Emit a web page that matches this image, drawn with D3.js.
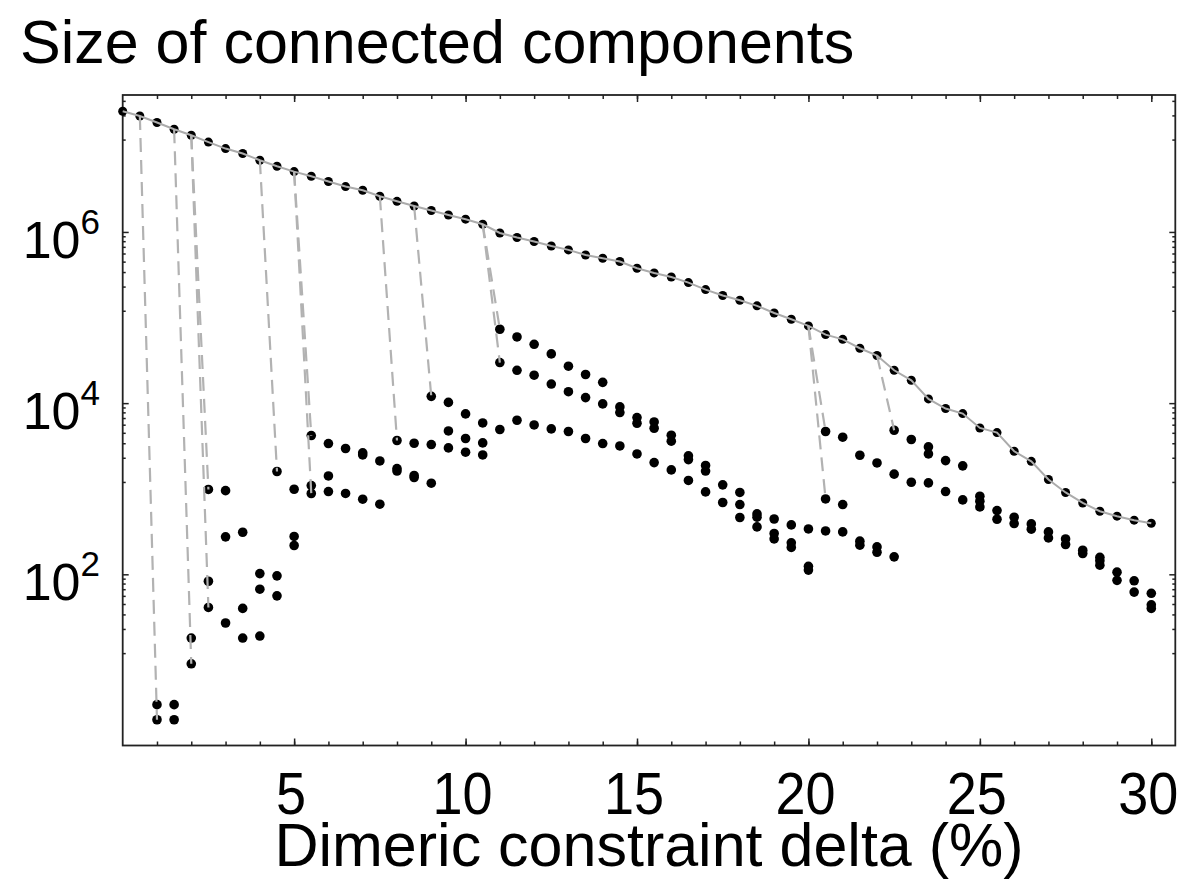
<!DOCTYPE html>
<html lang="en">
<head>
  <meta charset="UTF-8">
  <title>Size of connected components</title>
  <style>
    body { margin: 0; background: #fff; }
    text { font-family: "Liberation Sans", Arial, sans-serif; fill: #000; }
  </style>
</head>
<body>
  <script src="https://cdn.jsdelivr.net/npm/d3@7/dist/d3.min.js"></script>
  <script>
    // dimeric constraint delta (%) for the largest component
    let deltas = [0, 0.5, 1, 1.5, 2, 2.5, 3, 3.5, 4, 4.5, 5, 5.5, 6, 6.5, 7, 7.5, 8, 8.5, 9, 9.5,
                  10, 10.5, 11, 11.5, 12, 12.5, 13, 13.5, 14, 14.5, 15, 15.5, 16, 16.5, 17, 17.5,
                  18, 18.5, 19, 19.5, 20, 20.5, 21, 21.5, 22, 22.5, 23, 23.5, 24, 24.5, 25, 25.5,
                  26, 26.5, 27, 27.5, 28, 28.5, 29, 29.5, 30];
    // size of the largest connected component
    let largest = [25700000, 22600000, 19000000, 15850000, 13490000, 11220000, 9420000, 8240000,
                   6890000, 5860000, 5070000, 4470000, 3890000, 3390000, 3070000, 2610000, 2280000,
                   2010000, 1780000, 1580000, 1410000, 1230000, 973000, 861000, 773000, 686000,
                   617000, 538000, 493000, 451000, 377000, 332000, 298000, 256000, 212000, 181000,
                   159000, 137000, 113000, 95500, 79800, 63200, 55600, 43800, 36000, 24200, 18500,
                   11200, 8650, 7550, 5130, 4530, 2740, 2090, 1280, 904, 682, 546, 478, 429, 395];
    // other components: [delta, size]
    let fragments = [
      [1, 3], [1, 2], [1.5, 3], [1.5, 2], [2, 18], [2, 9],
      [2.5, 980], [2.5, 83], [2.5, 41], [3, 950], [3, 274], [3, 27],
      [3.5, 310], [3.5, 40], [3.5, 18], [4, 102], [4, 67], [4, 19],
      [4.5, 1590], [4.5, 96], [4.5, 56], [5, 986], [5, 277], [5, 217],
      [5.5, 4180], [5.5, 1090], [5.5, 879], [6, 3370], [6, 1410], [6, 927],
      [6.5, 2950], [6.5, 880], [7, 2630], [7, 2480], [7, 754], [7.5, 2110], [7.5, 659],
      [8, 3660], [8, 1720], [8, 1610], [8.5, 3400], [8.5, 1430], [8.5, 1350],
      [9, 12000], [9, 3280], [9, 1160], [9.5, 10200], [9.5, 4730], [9.5, 3000],
      [10, 7480], [10, 3860], [10, 2670], [10.5, 5870], [10.5, 3430], [10.5, 2480],
      [11, 73000], [11, 29800], [11, 4920], [11.5, 59300], [11.5, 24200], [11.5, 6310],
      [12, 48700], [12, 21200], [12, 5560], [12.5, 37600], [12.5, 16700], [12.5, 5000],
      [13, 27000], [13, 13600], [13, 4660], [13.5, 21600], [13.5, 11600], [13.5, 3860],
      [14, 17500], [14, 9790], [14, 3370], [14.5, 9040], [14.5, 7760], [14.5, 3160],
      [15, 6790], [15, 5820], [15, 2550], [15.5, 6030], [15.5, 5090], [15.5, 2020],
      [16, 4220], [16, 3590], [16, 1660], [16.5, 2420], [16.5, 2190], [16.5, 1250],
      [17, 1870], [17, 1610], [17, 918], [17.5, 1110], [17.5, 690],
      [18, 904], [18, 653], [18, 461], [18.5, 508], [18.5, 465], [18.5, 358],
      [19, 443], [19, 300], [19, 259], [19.5, 378], [19.5, 233], [19.5, 206],
      [20, 339], [20, 124], [20, 112], [20.5, 4660], [20.5, 760], [20.5, 321],
      [21, 4000], [21, 653], [21, 313], [21.5, 2460], [21.5, 244], [21.5, 219],
      [22, 2000], [22, 209], [22, 181], [22.5, 4820], [22.5, 1480], [22.5, 160],
      [23, 3760], [23, 1190], [23.5, 3080], [23.5, 2550], [23.5, 1170],
      [24, 2130], [24, 927], [24.5, 1850], [24.5, 740], [25, 817], [25, 714], [25, 612],
      [25.5, 556], [25.5, 440], [26, 464], [26, 392], [26.5, 388], [26.5, 337],
      [27, 313], [27, 266], [27.5, 259], [27.5, 223], [28, 191], [28, 175],
      [28.5, 158], [28.5, 144], [28.5, 128], [29, 106], [29, 85], [29.5, 84], [29.5, 62],
      [30, 60], [30, 44], [30, 40]
    ];
    // splits off the largest component: [parent delta, child delta, child size]
    let splits = [
      [0.5, 1, 2], [1.5, 2, 9], [2, 2.5, 980], [2, 2.5, 41], [4, 4.5, 1590],
      [5, 5.5, 4180], [5, 5.5, 879], [7.5, 8, 3660], [8.5, 9, 12000],
      [10.5, 11, 73000], [10.5, 11, 29800], [20, 20.5, 4660], [20, 20.5, 760], [22, 22.5, 4820]
    ];
    let xMajor = [5, 10, 15, 20, 25, 30];
    let xMinor = d3.range(1, 31);
    let yMajorExp = [2, 4, 6];

    let width = 1200;
    let height = 892;
    let svg = d3.select('body').append('svg')
                .attr('width', width)
                .attr('height', height);

    let x = d3.scaleLinear().domain([0, 30.7]).range([122.7, 1175.3]);
    let y = d3.scaleLog().domain([1, Math.pow(10, 7.6)]).range([745.5, 95]);
    let plotTop = y.range()[1], plotBottom = y.range()[0];
    let plotLeft = x.range()[0], plotRight = x.range()[1];

    // minor y ticks: 8 linear steps between the labelled decades
    let yMinor = [];
    [[1, 1e2], [1e2, 1e4], [1e4, 1e6], [1e6, 1e8]].forEach(function(p) {
      for (let m = 1; m <= 8; m++) {
        let v = p[0] + m * (p[1] - p[0]) / 9;
        if (v < y.domain()[1]) yMinor.push(v);
      }
    });

    function tickAxis(axis, transform) {
      let g = svg.append('g').attr('transform', transform).call(axis);
      g.select('.domain').remove();
      g.selectAll('line').attr('stroke', '#222').attr('stroke-width', 1.5);
      g.selectAll('text').remove();
    }
    // inward ticks on all four sides
    tickAxis(d3.axisBottom(x).tickValues(xMinor).tickSize(-4), 'translate(0,' + plotBottom + ')');
    tickAxis(d3.axisBottom(x).tickValues(xMajor).tickSize(-7), 'translate(0,' + plotBottom + ')');
    tickAxis(d3.axisTop(x).tickValues(xMinor).tickSize(-4), 'translate(0,' + plotTop + ')');
    tickAxis(d3.axisTop(x).tickValues(xMajor).tickSize(-7), 'translate(0,' + plotTop + ')');
    let yMajor = yMajorExp.map(function(e) { return Math.pow(10, e); });
    tickAxis(d3.axisLeft(y).tickValues(yMinor).tickSize(-3), 'translate(' + plotLeft + ',0)');
    tickAxis(d3.axisLeft(y).tickValues(yMajor).tickSize(-6), 'translate(' + plotLeft + ',0)');
    tickAxis(d3.axisRight(y).tickValues(yMinor).tickSize(-3), 'translate(' + plotRight + ',0)');
    tickAxis(d3.axisRight(y).tickValues(yMajor).tickSize(-6), 'translate(' + plotRight + ',0)');

    // frame
    svg.append('rect')
       .attr('x', plotLeft).attr('y', plotTop)
       .attr('width', plotRight - plotLeft).attr('height', plotBottom - plotTop)
       .attr('fill', 'none').attr('stroke', '#222').attr('stroke-width', 1.8);

    // x labels (slightly condensed, like the original)
    svg.append('g').selectAll('text')
       .data(xMajor).enter().append('text')
       .attr('transform', function(d) { return 'translate(' + (x(d) - 3) + ',814) scale(0.9,1)'; })
       .attr('text-anchor', 'middle')
       .attr('font-size', 60)
       .text(function(d) { return d; });

    // y labels 10^n
    let yl = svg.append('g').selectAll('text')
       .data(yMajorExp).enter().append('text')
       .attr('x', 100)
       .attr('y', function(d) { return y(Math.pow(10, d)) + 26; })
       .attr('text-anchor', 'end')
       .attr('font-size', 52);
    yl.append('tspan').text('10');
    yl.append('tspan').attr('font-size', 35).attr('dy', -24)
      .text(function(d) { return d; });

    // titles
    svg.append('text').attr('x', 20).attr('y', 63)
       .attr('font-size', 61).text('Size of connected components');
    svg.append('text').attr('x', (plotLeft + plotRight) / 2).attr('y', 866)
       .attr('text-anchor', 'middle')
       .attr('font-size', 61).text('Dimeric constraint delta (%)');

    // points
    let plot = svg.append('g');
    let r = 4.8;
    plot.selectAll('circle.frag')
        .data(fragments).enter().append('circle')
        .attr('class', 'frag')
        .attr('cx', function(d) { return x(d[0]); })
        .attr('cy', function(d) { return y(d[1]); })
        .attr('r', r).attr('fill', '#000');
    plot.selectAll('circle.big')
        .data(deltas).enter().append('circle')
        .attr('class', 'big')
        .attr('cx', function(d) { return x(d); })
        .attr('cy', function(d, i) { return y(largest[i]); })
        .attr('r', r - 0.3).attr('fill', '#000');

    // largest component line
    let line = d3.line()
                 .x(function(d) { return x(d); })
                 .y(function(d, i) { return y(largest[i]); });
    plot.append('path').datum(deltas)
        .attr('d', line)
        .attr('fill', 'none')
        .attr('stroke', '#ababab')
        .attr('stroke-width', 2);

    // dashed split links
    plot.selectAll('line.split')
        .data(splits).enter().append('line')
        .attr('class', 'split')
        .attr('x1', function(d) { return x(d[0]); })
        .attr('y1', function(d) { return y(largest[deltas.indexOf(d[0])]); })
        .attr('x2', function(d) { return x(d[1]); })
        .attr('y2', function(d) { return y(d[2]); })
        .attr('stroke', '#b2b2b2')
        .attr('stroke-width', 2.2)
        .attr('stroke-dasharray', '14,8');
  </script>
</body>
</html>
